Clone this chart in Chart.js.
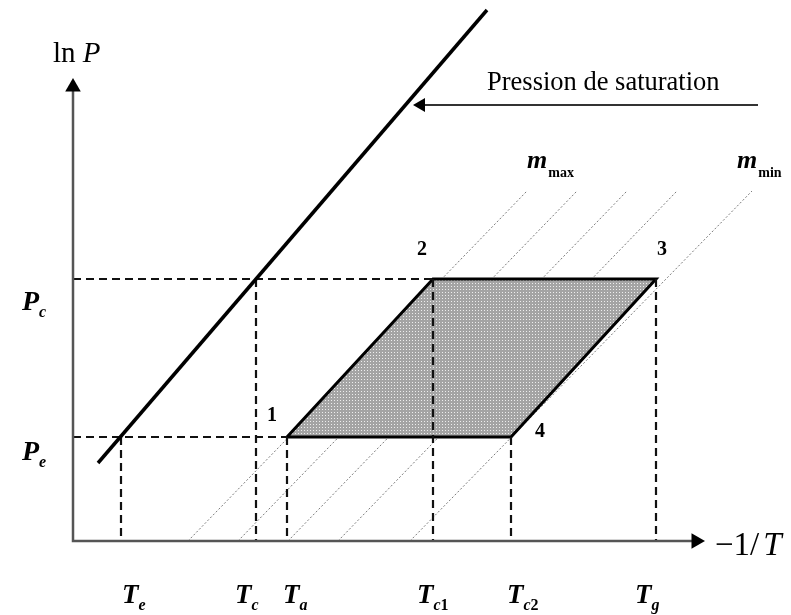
<!DOCTYPE html>
<html>
<head>
<meta charset="utf-8">
<style>
html, body { margin: 0; padding: 0; background: #fff; }
#diagram { display: block; }
</style>
<script src="https://cdn.jsdelivr.net/npm/chart.js@4/dist/chart.umd.min.js"></script>
</head>
<body>
<canvas id="diagram" width="791" height="615"></canvas>
<script>
// diagram units: 1 unit = 10 px, origin at the corner of the two axes
var saturation_x = [2.5, 41.4];
var saturation_y = [7.8, 53.1];

var cycle_labels = ['1', '2', '3', '4'];
var cycle_x = [21.4, 36.0, 58.3, 43.8];
var cycle_y = [10.4, 26.2, 26.2, 10.4];

var pressure_labels = ['Pe', 'Pc'];
var pressure_values = [10.4, 26.2];
var pressure_ends = [21.4, 36.0];

var temp_labels = ['Te', 'Tc', 'Ta', 'Tc1', 'Tc2', 'Tg'];
var temp_values = [4.8, 18.3, 21.4, 36.0, 43.8, 58.3];
var temp_levels = [10.4, 26.2, 10.4, 26.2, 10.4, 26.2];

// isosteres, m_max on the left to m_min on the right
var isostere_bottom = [11.5, 16.5, 21.5, 26.5, 33.7];
var isostere_top = [45.4, 50.4, 55.4, 60.4, 67.9];
var isostere_top_y = 35.0;

var axis_x_max = 63.2;
var axis_y_max = 46.3;
var pointer_y = 43.6;
var pointer_from = 68.5;
var pointer_to = 34.0;

var serif = '"Liberation Serif", "Times New Roman", serif';
function f(style, size) { return style + ' ' + size + 'px ' + serif; }

// draws pieces of text one after the other (italics, subscripts)
function runs(ctx, x, y, parts) {
    parts.forEach(function(p) {
        ctx.font = p.font;
        x += (p.dx || 0);
        ctx.fillText(p.text, x, y + (p.dy || 0));
        x += ctx.measureText(p.text).width;
    });
}

function subParts(name, size, subSize) {
    var sub = name.slice(1);
    var letters = sub.replace(/[0-9]/g, '');
    var digits = sub.replace(/[^0-9]/g, '');
    var parts = [{text: name.charAt(0), font: f('italic bold', size)}];
    if (letters) parts.push({text: letters, font: f('italic bold', subSize), dy: 7, dx: 0});
    if (digits) parts.push({text: digits, font: f('bold', subSize), dy: 7});
    return parts;
}

// hatched grey fill of the cycle
var tile = document.createElement('canvas');
tile.width = 3; tile.height = 3;
var tctx = tile.getContext('2d');
tctx.fillStyle = '#a4a4a4';
tctx.fillRect(0, 0, 3, 3);
tctx.fillStyle = '#eeeeee';
tctx.fillRect(1, 1, 1, 1);
var ctx = document.getElementById('diagram').getContext('2d');
var hatch = ctx.createPattern(tile, 'repeat');

var datasets = [];

// arrow heads
datasets.push({
    label: 'flèches',
    data: [
        {x: 0, y: axis_y_max - 0.9},
        {x: axis_x_max - 0.9, y: 0},
        {x: pointer_to + 0.8, y: pointer_y}
    ],
    showLine: false,
    pointStyle: 'triangle',
    pointRadius: [9, 9, 8],
    pointRotation: [0, 90, 270],
    pointBackgroundColor: '#000',
    pointBorderWidth: 0,
    order: 0
});

// axes
datasets.push({
    label: 'axes',
    data: [{x: 0, y: axis_y_max - 1.2}, {x: 0, y: 0}, {x: axis_x_max - 1.2, y: 0}],
    showLine: true,
    borderColor: '#555',
    borderWidth: 2.5,
    order: 1
});

// pointer to the saturation line
datasets.push({
    label: 'pointeur',
    data: [{x: pointer_from, y: pointer_y}, {x: pointer_to + 1.2, y: pointer_y}],
    showLine: true,
    borderColor: '#333',
    borderWidth: 2,
    order: 1
});

// saturation pressure line
datasets.push({
    label: 'Pression de saturation',
    data: saturation_x.map(function(x, i) { return {x: x, y: saturation_y[i]}; }),
    showLine: true,
    borderColor: '#000',
    borderWidth: 3.5,
    order: 2
});

// dashed guides
pressure_values.forEach(function(p, i) {
    datasets.push({
        label: pressure_labels[i],
        data: [{x: 0, y: p}, {x: pressure_ends[i], y: p}],
        showLine: true,
        borderColor: '#111',
        borderWidth: 2.2,
        borderDash: [8, 5],
        order: 3
    });
});
temp_values.forEach(function(t, i) {
    datasets.push({
        label: temp_labels[i],
        data: [{x: t, y: temp_levels[i]}, {x: t, y: 0}],
        showLine: true,
        borderColor: '#111',
        borderWidth: 2.2,
        borderDash: [8, 5],
        order: 3
    });
});

// cycle 1-2-3-4
var cycle = cycle_x.map(function(x, i) { return {x: x, y: cycle_y[i]}; });
cycle.push({x: cycle_x[0], y: cycle_y[0]});
datasets.push({
    label: 'cycle',
    data: cycle,
    showLine: true,
    fill: 'shape',
    backgroundColor: hatch,
    borderColor: '#000',
    borderWidth: 3,
    borderJoinStyle: 'miter',
    order: 5
});

// isosteres
isostere_bottom.forEach(function(x0, i) {
    datasets.push({
        label: 'isostère ' + (i + 1),
        data: [{x: x0, y: 0}, {x: isostere_top[i], y: isostere_top_y}],
        showLine: true,
        borderColor: '#7a7a7a',
        borderWidth: 1,
        borderDash: [2, 2],
        order: 10
    });
});

var labelPlugin = {
    id: 'diagramLabels',
    afterDraw: function(chart) {
        var c = chart.ctx, xs = chart.scales.x, ys = chart.scales.y;
        function px(v) { return xs.getPixelForValue(v); }
        function py(v) { return ys.getPixelForValue(v); }
        c.save();
        c.fillStyle = '#000';
        c.textBaseline = 'alphabetic';

        runs(c, px(-2.0), py(47.9), [{text: 'ln ', font: f('normal', 29)}, {text: 'P', font: f('italic', 29)}]);
        runs(c, px(64.2), py(-1.4), [{text: '\u22121/', font: f('normal', 33)}, {text: 'T', font: f('italic', 33), dx: 4}]);

        runs(c, px(41.4), py(45.1), [{text: 'Pression de saturation', font: f('normal', 26.5)}]);

        runs(c, px(45.4), py(37.3), [{text: 'm', font: f('italic bold', 26)}, {text: 'max', font: f('bold', 14), dy: 9, dx: 1}]);
        runs(c, px(66.4), py(37.3), [{text: 'm', font: f('italic bold', 26)}, {text: 'min', font: f('bold', 14), dy: 9, dx: 1}]);

        var pDrop = [23, 31];
        pressure_labels.forEach(function(name, i) {
            runs(c, px(-5.1), py(pressure_values[i]) + pDrop[i], subParts(name, 28, 16));
        });

        var tShift = [1, -21, -4, -16, -4, -21];
        temp_labels.forEach(function(name, i) {
            runs(c, px(temp_values[i]) + tShift[i], py(-6.2), subParts(name, 27, 16));
        });

        var nShift = [[-20, -16], [-16, -24], [1, -24], [24, 0]];
        cycle_labels.forEach(function(name, i) {
            runs(c, px(cycle_x[i]) + nShift[i][0], py(cycle_y[i]) + nShift[i][1], [{text: name, font: f('bold', 20)}]);
        });
        c.restore();
    }
};

new Chart(ctx, {
    type: 'scatter',
    data: { datasets: datasets },
    options: {
        responsive: false,
        animation: false,
        devicePixelRatio: 1,
        layout: { padding: 0, autoPadding: false },
        elements: { point: { radius: 0, hoverRadius: 0 }, line: { tension: 0 } },
        scales: {
            x: { type: 'linear', min: -7.3, max: 71.8, display: false },
            y: { type: 'linear', min: -7.4, max: 54.1, display: false }
        },
        plugins: {
            legend: { display: false },
            tooltip: { enabled: false }
        }
    },
    plugins: [labelPlugin]
});
</script>
</body>
</html>
